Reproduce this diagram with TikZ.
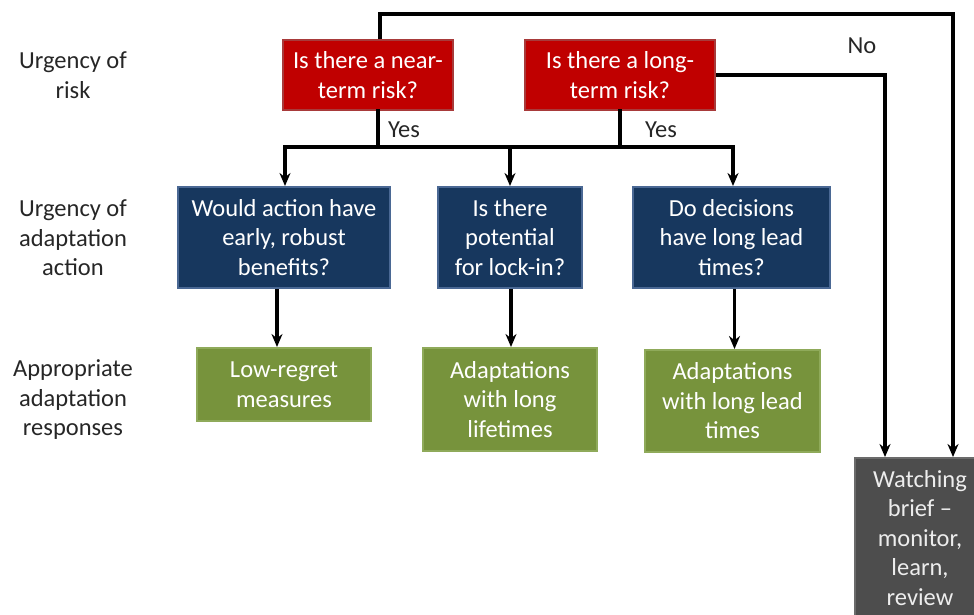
\documentclass[tikz,border=0pt]{standalone}
\usepackage{fontspec}
\setmainfont{Carlito}
\usetikzlibrary{arrows.meta}
\definecolor{redfill}{HTML}{C00000}
\definecolor{redline}{HTML}{A83A3A}
\definecolor{bluefill}{HTML}{17375E}
\definecolor{blueline}{HTML}{4A6894}
\definecolor{greenfill}{HTML}{77933C}
\definecolor{greenline}{HTML}{8FAA5A}
\definecolor{greyfill}{HTML}{4D4D4D}
\definecolor{greyline}{HTML}{6B6B6B}
\definecolor{lbltext}{HTML}{262626}
\begin{document}
\begin{tikzpicture}[x=1pt,y=-1pt,
  box/.style={draw, line width=2pt, align=center, font=\fontsize{24.5}{29.5}\selectfont, text=white, inner sep=0pt},
  redbox/.style={box, fill=redfill, draw=redline},
  bluebox/.style={box, fill=bluefill, draw=blueline},
  greenbox/.style={box, fill=greenfill, draw=greenline},
  greybox/.style={box, fill=greyfill, draw=greyline, text=white!93!black},
  conn/.style={line width=3.5pt, -{Stealth[length=13pt,width=11pt]}},
  plain/.style={line width=3.5pt, line cap=rect},
  lbl/.style={align=center, font=\fontsize{24.5}{29.5}\selectfont, text=lbltext},
  ans/.style={font=\fontsize{24.5}{29.5}\selectfont, text=lbltext}]
\useasboundingbox (0,0) rectangle (974,614);
\clip (0,0) rectangle (974,614);

% left labels
\node[lbl] (l1) at (73,75) {Urgency of\\risk};
\node[lbl] (l2) at (73,238) {Urgency of\\adaptation\\action};
\node[lbl] (l3) at (73,400) {Appropriate\\adaptation\\responses};

% risk boxes
\node[redbox, minimum width=170pt, minimum height=70pt] (r1) at (368,75) {Is there a near-\\term risk?};
\node[redbox, minimum width=190pt, minimum height=70pt] (r2) at (620,75) {Is there a long-\\term risk?};

% action boxes
\node[bluebox, minimum width=212pt, minimum height=101pt] (b1) at (284,237.5) {Would action have\\early, robust\\benefits?};
\node[bluebox, minimum width=144pt, minimum height=101pt] (b2) at (510,237.5) {Is there\\potential\\for lock-in?};
\node[bluebox, minimum width=197pt, minimum height=101pt] (b3) at (731.5,237.5) {Do decisions\\have long lead\\times?};

% response boxes
\node[greenbox, minimum width=174pt, minimum height=73pt] (g1) at (284,384.5) {Low-regret\\measures};
\node[greenbox, minimum width=174pt, minimum height=103pt] (g2) at (510,399.5) {Adaptations\\with long\\lifetimes};
\node[greenbox, minimum width=175pt, minimum height=102pt] (g3) at (732.5,401) {Adaptations\\with long lead\\times};

% watching brief
\node[greybox, anchor=north, minimum width=130pt, inner ysep=12pt, inner xsep=4pt] (wb) at (920,457) {Watching\\brief --\\monitor,\\learn,\\review};

% No routes
\draw[conn] ([xshift=12pt]r1.north) -- ++(0,-25) -| ([xshift=33pt]wb.north);
\draw[conn] (r2.east) -| ([xshift=-35pt]wb.north);
\node[ans] (no) at (862,46) {No};

% Yes routes
\coordinate (jy) at (0,147);
\draw[plain] ([xshift=10pt]r1.south) -- ([xshift=10pt]r1.south |- jy);
\draw[plain] (r2.south) -- (r2.south |- jy);
\draw[plain] ([xshift=1pt]b1.north |- jy) -- ([xshift=1.5pt]b3.north |- jy);
\draw[conn] ([xshift=1pt]b1.north |- jy) -- ([xshift=1pt]b1.north);
\draw[conn] (b2.north |- jy) -- (b2.north);
\draw[conn] ([xshift=1.5pt]b3.north |- jy) -- ([xshift=1.5pt]b3.north);
\node[ans] (y1) at (404,130) {Yes};
\node[ans] (y2) at (661,130) {Yes};

% action to response
\draw[conn] ([xshift=-7pt]b1.south) -- ([xshift=-7pt]b1.south |- g1.north);
\draw[conn] ([xshift=1pt]b2.south) -- ([xshift=1pt]b2.south |- g2.north);
\draw[conn] ([xshift=3pt]b3.south) -- ([xshift=3pt]b3.south |- g3.north);
\end{tikzpicture}
\end{document}
